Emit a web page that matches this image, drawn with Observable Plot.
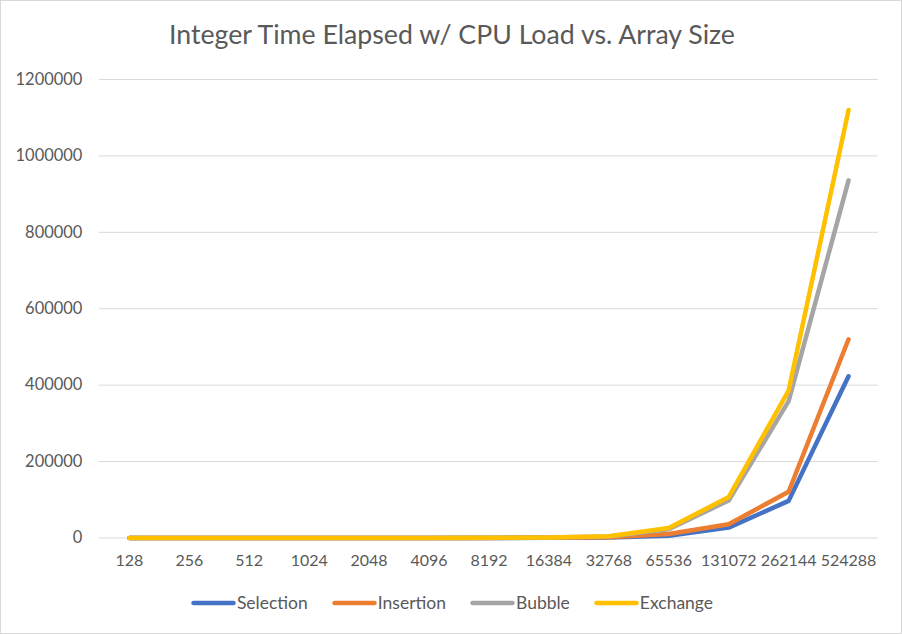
<!DOCTYPE html>
<html>
<head>
<meta charset="utf-8">
<script src="https://cdn.jsdelivr.net/npm/d3@7"></script>
<script src="https://cdn.jsdelivr.net/npm/@observablehq/plot@0.6"></script>
<style>
  html, body { margin: 0; padding: 0; background: #fff; }
  #chart { position: relative; width: 902px; height: 634px; box-sizing: border-box; border: 1px solid #d9d9d9; background: #fff; overflow: hidden; font-family: Lato, "Open Sans", sans-serif; }
  #title { position: absolute; top: 17px; left: 0; width: 902px; text-align: center; font-size: 26.7px; color: #595959; font-weight: 400; white-space: nowrap; }
  #plot { position: absolute; top: 59px; left: -1px; }
  #legend { position: absolute; top: 591px; left: 0; width: 902px; display: flex; justify-content: center; gap: 24px; font-size: 17.5px; color: #595959; }
  .item { display: flex; align-items: center; }
  .item svg { margin-right: 1px; }
</style>
</head>
<body>
<div id="chart">
  <div id="title">Integer Time Elapsed w/ CPU Load vs. Array Size</div>
  <div id="plot"></div>
  <div id="legend"></div>
</div>
<script>
const sizes = ["128","256","512","1024","2048","4096","8192","16384","32768","65536","131072","262144","524288"];
const seriesNames = ["Selection","Insertion","Bubble","Exchange"];
const seriesColors = ["#4472C4","#ED7D31","#A5A5A5","#FFC000"];
const selection = [0, 0, 1, 2, 7, 26, 100, 400, 1500, 6000, 27000, 97000, 423000];
const insertion = [0, 0, 1, 3, 9, 32, 125, 500, 2000, 10500, 36000, 121000, 520000];
const bubble    = [0, 0, 1, 4, 15, 58, 230, 900, 4000, 23000, 98000, 358000, 936000];
const exchange  = [0, 0, 2, 5, 17, 66, 260, 1000, 4500, 26000, 107000, 386000, 1120000];
const yTicks = [0, 200000, 400000, 600000, 800000, 1000000, 1200000];

const allSeries = [selection, insertion, bubble, exchange];
const data = [];
allSeries.forEach((vals, si) => vals.forEach((v, i) => data.push({size: sizes[i], value: v, series: seriesNames[si]})));

const plot = Plot.plot({
  width: 902,
  height: 510,
  marginLeft: 99,
  marginRight: 23,
  marginTop: 19,
  marginBottom: 32,
  style: {fontFamily: "Lato, 'Open Sans', sans-serif", fontSize: "16px", color: "#595959", background: "transparent"},
  x: {type: "point", domain: sizes, padding: 0.5, label: null, tickSize: 0, tickPadding: 17},
  y: {domain: [0, 1200000], ticks: yTicks, tickFormat: d => String(d), label: null, tickSize: 0, tickPadding: 17},
  color: {domain: seriesNames, range: seriesColors},
  marks: [
    Plot.gridY(yTicks, {stroke: "#d9d9d9", strokeOpacity: 1, strokeWidth: 1}),
    Plot.axisX({tickSize: 0, tickPadding: 17, fill: "#595959", fontSize: 16}),
    Plot.axisY(yTicks, {tickSize: 0, tickPadding: 17, tickFormat: d => String(d), fill: "#595959", fontSize: 16.5}),
    Plot.line(data, {x: "size", y: "value", z: "series", stroke: "series", strokeWidth: 4.5, strokeLinecap: "round", strokeLinejoin: "round"})
  ]
});
document.getElementById("plot").appendChild(plot);

const legend = document.getElementById("legend");
seriesNames.forEach((name, i) => {
  const item = document.createElement("div");
  item.className = "item";
  item.innerHTML = `<svg width="45" height="10"><line x1="2.5" y1="5" x2="42.5" y2="5" stroke="${seriesColors[i]}" stroke-width="4.5" stroke-linecap="round"/></svg><span>${name}</span>`;
  legend.appendChild(item);
});
</script>
</body>
</html>
